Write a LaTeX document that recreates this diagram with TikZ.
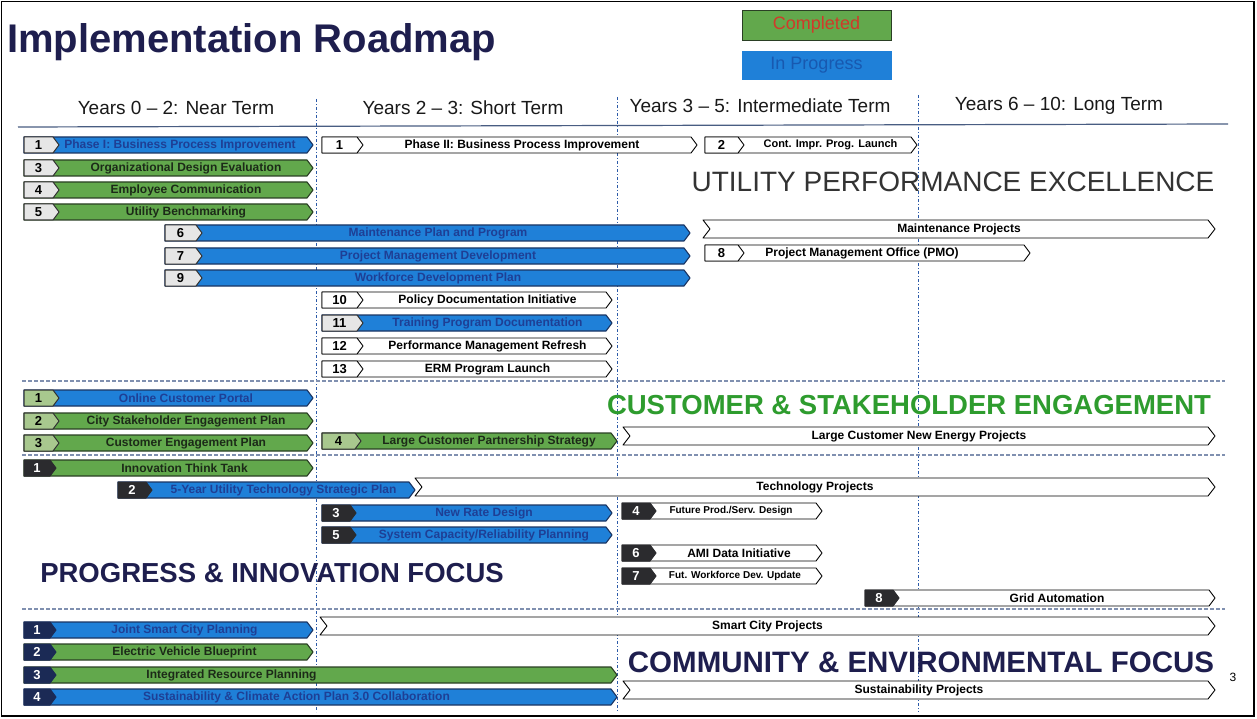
\documentclass[tikz,border=0pt]{standalone}
\usepackage{fontspec}
\setmainfont{Liberation Sans}
\newcounter{barc}
\definecolor{cblue}{HTML}{1F80D8}
\definecolor{cblueD}{HTML}{1B3563}
\definecolor{ctblue}{HTML}{1E3F95}
\definecolor{cgreen}{HTML}{62A84C}
\definecolor{cgreenD}{HTML}{2A3F24}
\definecolor{ctgreen}{HTML}{1C2A18}
\definecolor{cgray}{HTML}{E6E6E6}
\definecolor{clgreen}{HTML}{A8C88E}
\definecolor{cdark}{HTML}{2B2B2E}
\definecolor{cnavy}{HTML}{1B2A55}
\definecolor{ctitle}{HTML}{1E1E4E}
\definecolor{cvline}{HTML}{2C5AA8}
\definecolor{chline}{HTML}{8090B0}
\definecolor{csecgreen}{HTML}{2E9C2E}
\definecolor{cutil}{HTML}{333333}
\definecolor{cred}{HTML}{D03A2A}
\definecolor{clegblue}{HTML}{1859B0}
\tikzset{
  bartext/.style={inner sep=0pt, font=\bfseries\fontsize{12}{13}\selectfont},
  bblue/.style={fill=cblue, draw=cblueD, line width=1.1pt, line join=round},
  bgreen/.style={fill=cgreen, draw=cgreenD, line width=1.1pt, line join=round},
  bwhite/.style={fill=white, draw=black, line width=0.9pt, line join=round},
  tblue/.style={bartext, text=ctblue},
  tgreen/.style={bartext, text=ctgreen},
  twhite/.style={bartext, text=black},
  nbgray/.style={fill=cgray, draw=black!80, line width=1pt, line join=round},
  nblgreen/.style={fill=clgreen, draw=black!80, line width=1pt, line join=round},
  nbwhite/.style={fill=white, draw=black, line width=0.9pt, line join=round},
  nbdark/.style={fill=cdark, draw=cdark, line width=1pt, line join=round},
  nbnavy/.style={fill=cnavy, draw=cnavy, line width=1pt, line join=round},
  numtext/.style={inner sep=0pt, font=\bfseries\fontsize{13}{14}\selectfont},
  ntgray/.style={numtext, text=black},
  ntlgreen/.style={numtext, text=black},
  ntwhite/.style={numtext, text=black},
  ntdark/.style={numtext, text=white},
  ntnavy/.style={numtext, text=white},
  small/.style={font=\bfseries\fontsize{10}{11}\selectfont},
  vsep/.style={draw=cvline, line width=1pt, dash pattern=on 3pt off 2pt on 1pt off 2pt},
  hsep/.style={draw=chline, line width=1.3pt, dash pattern=on 4pt off 2pt},
  header/.style={inner sep=0pt, font=\fontsize{19}{20}\selectfont, text=black!90},
  section/.style={inner sep=0pt, font=\bfseries\fontsize{27.5}{30}\selectfont},
}
% x1, x2, y, number-box width, number, text, body kind, number kind, extra text options
\newcommand{\rbar}[9]{%
  \stepcounter{barc}%
  \path[b#7] ({#1},{#3-8}) -- ({#2-6},{#3-8}) -- ({#2},{#3}) -- ({#2-6},{#3+8}) -- ({#1},{#3+8}) -- cycle;
  \path[nb#8] ({#1},{#3-8}) -- ({#1+#4},{#3-8}) -- ({#1+#4+6},{#3}) -- ({#1+#4},{#3+8}) -- ({#1},{#3+8}) -- cycle;
  \node[nt#8] (n\thebarc) at ({#1+#4/2},{#3}) {#5};
  \node[t#7,#9] (t\thebarc) at ({(#1+#4+#2)/2+3},{#3}) {#6};
}
% x1, x2, y, text, extra text options
\newcommand{\nbar}[5]{%
  \stepcounter{barc}%
  \path[bwhite] ({#1},{#3-9}) -- ({#2-7},{#3-9}) -- ({#2},{#3}) -- ({#2-7},{#3+9}) -- ({#1},{#3+9}) -- ({#1+7},{#3}) -- cycle;
  \node[twhite,#5] (t\thebarc) at ({(#1+#2)/2},{#3}) {#4};
}
\begin{document}
\begin{tikzpicture}[x=1pt,y=-1pt]
\useasboundingbox (0,0) rectangle (1257,719);
\fill[white] (0,0) rectangle (1257,719);
\draw[line width=1.5pt] (1.5,1.5) rectangle (1254,716);

% title and legend
\node[anchor=west, inner sep=0pt, font=\bfseries\fontsize{40}{42}\selectfont, text=ctitle] (title) at (7,42) {Implementation Roadmap};
\node[fill=cgreen, draw=cgreenD, line width=0.8pt, minimum width=149pt, minimum height=30pt, inner sep=0pt, text=cred, font=\fontsize{18}{19}\selectfont] (leg1) at (816.5,25) {Completed};
\node[fill=cblue, draw=cblue, minimum width=149pt, minimum height=28pt, inner sep=0pt, text=clegblue, font=\fontsize{18}{19}\selectfont] (leg2) at (816.5,65) {In Progress};

% headers
\node[header] (h1) at (176,108) {Years 0 -- 2: Near Term};
\node[header] (h2) at (463,108) {Years 2 -- 3: Short Term};
\node[header] (h3) at (760,106) {Years 3 -- 5: Intermediate Term};
\node[header] (h4) at (1059,106) {Years 6 -- 10: Long Term};
\draw[draw=cblueD!80, line width=1.2pt] (18,127) -- (1228,124);

% grid
\draw[vsep] (316,99) -- (316,712);
\draw[vsep] (617,97) -- (617,712);
\draw[vsep] (918,95) -- (918,712);
\draw[hsep] (22,381) -- (1225,381);
\draw[hsep] (22,455) -- (1225,455);
\draw[hsep] (22,609) -- (1225,609);

% section titles
\node[inner sep=0pt, font=\fontsize{28}{30}\selectfont, text=cutil] (s1) at (953,182) {UTILITY PERFORMANCE EXCELLENCE};
\node[section, text=csecgreen] (s2) at (909,405) {CUSTOMER \& STAKEHOLDER ENGAGEMENT};
\node[section, text=ctitle] (s3) at (272,573) {PROGRESS \& INNOVATION FOCUS};
\node[section, text=ctitle, font=\bfseries\fontsize{29.5}{31}\selectfont] (s4) at (921,662) {COMMUNITY \& ENVIRONMENTAL FOCUS};
\node[inner sep=0pt, font=\fontsize{12}{13}\selectfont] (pg) at (1233,677) {3};

% utility performance excellence
\rbar{24}{313}{145}{29}{1}{Phase I: Business Process Improvement}{blue}{gray}{xshift=-6pt}
\rbar{322}{697}{145}{35}{1}{Phase II: Business Process Improvement}{white}{white}{xshift=-8pt}
\rbar{705}{917}{145}{33}{2}{Cont. Impr. Prog. Launch}{white}{white}{font=\bfseries\fontsize{11}{12}\selectfont}
\rbar{24}{313}{168}{29}{3}{Organizational Design Evaluation}{green}{gray}{}
\rbar{24}{313}{190}{29}{4}{Employee Communication}{green}{gray}{}
\rbar{24}{313}{212}{29}{5}{Utility Benchmarking}{green}{gray}{}
\rbar{165}{690}{233}{31}{6}{Maintenance Plan and Program}{blue}{gray}{xshift=-8pt}
\nbar{703}{1215}{229}{Maintenance Projects}{}
\rbar{165}{690}{256}{31}{7}{Project Management Development}{blue}{gray}{xshift=-8pt}
\rbar{705}{1030}{253}{33}{8}{Project Management Office (PMO)}{white}{white}{xshift=-25pt}
\rbar{165}{690}{278}{31}{9}{Workforce Development Plan}{blue}{gray}{xshift=-8pt}
\rbar{322}{612}{300}{35}{10}{Policy Documentation Initiative}{white}{white}{}
\rbar{322}{612}{323}{35}{11}{Training Program Documentation}{blue}{gray}{}
\rbar{322}{612}{346}{35}{12}{Performance Management Refresh}{white}{white}{}
\rbar{322}{612}{369}{35}{13}{ERM Program Launch}{white}{white}{}

% customer & stakeholder engagement
\rbar{24}{313}{398}{29}{1}{Online Customer Portal}{blue}{lgreen}{}
\rbar{24}{313}{421}{29}{2}{City Stakeholder Engagement Plan}{green}{lgreen}{}
\rbar{24}{313}{443}{29}{3}{Customer Engagement Plan}{green}{lgreen}{}
\rbar{322}{617}{441}{33}{4}{Large Customer Partnership Strategy}{green}{lgreen}{}
\nbar{623}{1215}{436}{Large Customer New Energy Projects}{}

% progress & innovation
\rbar{24}{313}{468}{26}{1}{Innovation Think Tank}{green}{dark}{}
\rbar{118}{415}{490}{28}{2}{5-Year Utility Technology Strategic Plan}{blue}{dark}{}
\nbar{415}{1215}{487}{Technology Projects}{}
\rbar{322}{612}{513}{28}{3}{New Rate Design}{blue}{dark}{}
\rbar{622}{822}{511}{28}{4}{Future Prod./Serv. Design}{white}{dark}{small,xshift=-8pt}
\rbar{322}{612}{535}{28}{5}{System Capacity/Reliability Planning}{blue}{dark}{}
\rbar{622}{822}{553}{28}{6}{AMI Data Initiative}{white}{dark}{}
\rbar{622}{822}{576}{28}{7}{Fut. Workforce Dev. Update}{white}{dark}{small,xshift=-4pt}
\rbar{865}{1215}{598}{28}{8}{Grid Automation}{white}{dark}{}

% community & environmental
\rbar{24}{313}{630}{26}{1}{Joint Smart City Planning}{blue}{navy}{}
\nbar{320}{1215}{626}{Smart City Projects}{}
\rbar{24}{313}{652}{26}{2}{Electric Vehicle Blueprint}{green}{navy}{}
\rbar{24}{617}{675}{26}{3}{Integrated Resource Planning}{green}{navy}{xshift=-105pt}
\rbar{24}{617}{697}{26}{4}{Sustainability \& Climate Action Plan 3.0 Collaboration}{blue}{navy}{xshift=-40pt}
\nbar{623}{1215}{690}{Sustainability Projects}{}
\end{tikzpicture}
\end{document}
